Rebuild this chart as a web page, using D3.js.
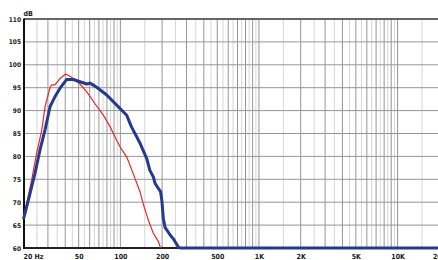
<!DOCTYPE html>
<html>
<head>
<meta charset="utf-8">
<script src="https://cdn.jsdelivr.net/npm/d3@7"></script>
<style>
body{margin:0;background:#fff;}
text{font-family:"Liberation Sans Narrow","DejaVu Sans Condensed",sans-serif;font-weight:bold;fill:#1a1a1a;}
</style>
</head>
<body>
<script>
// frequency response
var blueFreq = [20,22.3,24.2,26.3,28.6,31.1,33.7,36.7,41,45.7,51.1,57.2,60.4,67.5,79.7,94.1,111,120,130,139,155,163,173,178,188,195,199,204,210,228,241,262,270,20000];
var blueDb   = [66.3,71.9,76.3,81.4,85.8,90.9,93,94.9,96.8,96.8,96.3,95.8,96,95.1,93.4,91.2,89,86.5,84.5,82.8,79.5,77,75.5,74.1,73,72.3,70.5,66.5,64.5,62.9,62,60.2,60,60];

var redFreq = [20,22.9,24.9,27.1,28.6,31.1,32,33.7,35.6,36.7,40.3,44.5,51.1,57.2,65.6,75.3,84.2,91.4,99.3,111,121,138.5,146,159,173,188,195];
var redDb   = [66.5,74.8,80.7,85.8,90.8,95.1,95.6,95.6,96.5,97,98,97.3,95.8,94.1,91.5,89,86.5,84.3,82.1,79.9,77,72.3,69.7,66.1,63.2,61.4,60];

var xTicks  = [20,50,100,200,500,1000,2000,5000,10000,20000];
var xLabels = ["20 Hz","50","100","200","500","1K","2K","5K","10K","20K"];
var yTicks  = [60,65,70,75,80,85,90,95,100,105,110];

const w = 438, h = 260;
var svg = d3.select("body").append("svg").attr("width", w).attr("height", h);

var x = d3.scaleLog().domain([20,20000]).range([23.5,439.3]);
var y = d3.scaleLinear().domain([60,110]).range([248,19]);

// grid lines: dark on whole steps, light on half steps
var dark = [], light = [];
[10,100,1000].forEach(dec => {
  for (let d=1; d<=9; d++) {
    if (d*dec >= 20) dark.push(d*dec);
    if ((d+0.5)*dec >= 20) light.push((d+0.5)*dec);
  }
});
dark.push(10000); light.push(15000);

svg.selectAll(".gl").data(light).enter().append("line")
  .attr("x1", d => x(d)).attr("x2", d => x(d))
  .attr("y1", y(110)).attr("y2", y(60))
  .attr("stroke", "#d6d6d6").attr("stroke-width", 1);
svg.selectAll(".gd").data(dark).enter().append("line")
  .attr("x1", d => x(d)).attr("x2", d => x(d))
  .attr("y1", y(110)).attr("y2", y(60))
  .attr("stroke", "#969696").attr("stroke-width", 1);
svg.selectAll(".gh").data(yTicks).enter().append("line")
  .attr("x1", 24).attr("x2", w)
  .attr("y1", d => y(d)).attr("y2", d => y(d))
  .attr("stroke", "#969696").attr("stroke-width", 1);

// frame
svg.append("line").attr("x1",24).attr("x2",w).attr("y1",y(110)).attr("y2",y(110)).attr("stroke","#444").attr("stroke-width",1.5);
svg.append("line").attr("x1",24).attr("x2",w).attr("y1",y(60)).attr("y2",y(60)).attr("stroke","#222").attr("stroke-width",2);
svg.append("line").attr("x1",24).attr("x2",24).attr("y1",y(110)-0.5).attr("y2",y(60)+1).attr("stroke","#111").attr("stroke-width",2);

var line = d3.line().x(d => x(d[0])).y(d => y(d[1]));

svg.append("path").datum(d3.zip(redFreq, redDb))
  .attr("d", line).attr("fill","none").attr("stroke","#e8262b").attr("stroke-width",1.2);
svg.append("path").datum(d3.zip(blueFreq, blueDb))
  .attr("d", line).attr("fill","none").attr("stroke","#26398f").attr("stroke-width",3)
  .attr("stroke-linejoin","round");

// axes labels
var xAxis = svg.append("g").attr("transform","translate(0,"+y(60)+")")
  .call(d3.axisBottom(x).tickValues(xTicks).tickSize(0).tickPadding(6)
    .tickFormat((d,i) => xLabels[i]));
xAxis.select(".domain").remove();
xAxis.selectAll("text").style("font-size","7px");
xAxis.selectAll("text").filter((d,i) => i==0).attr("text-anchor","start").attr("x",-0.5);

var yAxis = svg.append("g").attr("transform","translate(21,0)")
  .call(d3.axisLeft(y).tickValues(yTicks).tickSize(0).tickPadding(0));
yAxis.select(".domain").remove();
yAxis.selectAll("text").style("font-size","6.5px");

svg.append("text").attr("x",23.5).attr("y",15.5).style("font-size","7px").text("dB");
</script>
</body>
</html>
